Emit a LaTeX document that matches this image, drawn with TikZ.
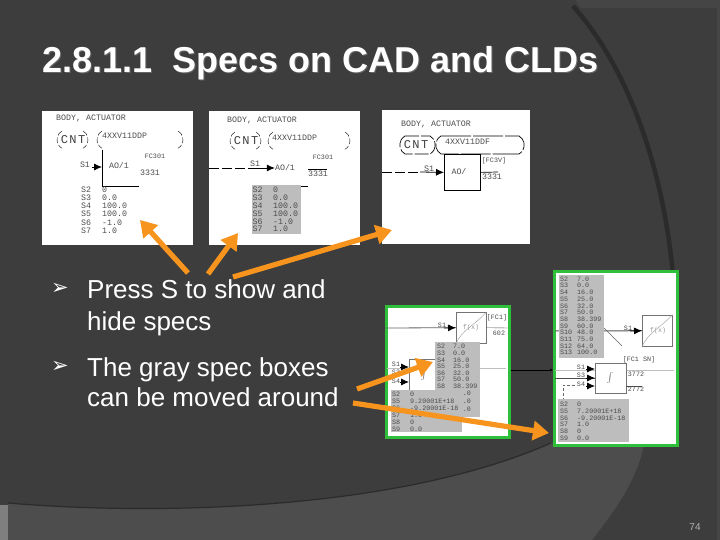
\documentclass[tikz,border=0pt]{standalone}
\usepackage{fontspec}
\setmainfont{Liberation Sans}
\setmonofont{Liberation Mono}
\newfontfamily\bulletfont{DejaVu Sans}
\usetikzlibrary{arrows.meta}
\definecolor{slidebg}{HTML}{3D3D3D}
\definecolor{slidelight}{HTML}{4D4D4D}
\definecolor{slidedark}{HTML}{2B2B2B}
\definecolor{specgray}{HTML}{BDBDBD}
\definecolor{panelgreen}{HTML}{2FBF3A}
\definecolor{callout}{HTML}{F7941D}
\tikzset{
	panel/.style={fill=white,anchor=north west,inner sep=0pt},
	greenpanel/.style={panel,draw=panelgreen,line width=2.5pt},
	specbox/.style={fill=specgray,anchor=north west,inner sep=0pt},
	tiny/.style={font=\ttfamily\fontsize{8.3}{8.3}\selectfont,text=black!70,inner sep=0pt},
	small/.style={font=\ttfamily\fontsize{6.7}{6.7}\selectfont,text=black!70,inner sep=0pt},
	cntlabel/.style={font=\ttfamily\addfontfeature{LetterSpace=12}\fontsize{12}{12}\selectfont,text=black!75,inner sep=0pt},
	paren/.style={black,dash pattern=on 6pt off 2pt},
	blockbox/.style={draw=black!55,fill=white,anchor=north west,inner sep=0pt},
	sig/.style={-{Latex[length=8pt,width=7pt]},black,line width=.8pt},
	callarrow/.style={-{Triangle[length=16pt,width=19pt]},callout,line width=5.2pt},
	bulletmark/.style={font=\bulletfont\fontsize{21}{21}\selectfont,text=white,anchor=west,inner sep=0pt},
	bodytext/.style={text=white,anchor=west,align=left,inner sep=0pt}
}
\begin{document}
\begin{tikzpicture}[x=1pt,y=-1pt]
	\useasboundingbox (0,0) rectangle (720,540);
	% slide background
	\fill[slidebg] (0,0) rectangle (720,540);
	\fill[slidelight!50!slidebg] (575,0) -- (720,0) -- (720,540) -- (717,540) -- (717,8) -- (581,8) -- cycle;
	\fill[slidelight] (8,503) .. controls (160,516) and (400,510) .. (551,443)
		-- (645,440) .. controls (638,480) and (615,510) .. (592,540) -- (8,540) -- cycle;
	\fill[slidelight!60!white!70!slidelight] (0,505) rectangle (8,540);
	\draw[slidedark,line width=4.5pt] (573,6) .. controls (630,70) and (662,170) .. (672,265)
		.. controls (680,340) and (668,400) .. (648,444);
	\draw[slidedark,line width=1.2pt] (8,503) .. controls (160,516) and (400,510) .. (551,443);

	% title
	\node[font=\bfseries\fontsize{36}{36}\selectfont,text=black!60,anchor=west,inner sep=0pt] (titleshadow) at (43,64) {2.8.1.1\ \ Specs on CAD and CLDs};
	\node[font=\bfseries\fontsize{36}{36}\selectfont,text=white,anchor=west,inner sep=0pt] (title) at (42,63) {2.8.1.1\ \ Specs on CAD and CLDs};

	% panel one
	\node[panel,minimum width=151pt,minimum height=134pt] (pa) at (42,111) {};
	\node[tiny,anchor=west] (pa title) at (56,118) {BODY, ACTUATOR};
	\node[cntlabel] (pa cnt) at (73,140) {CNT};
	\node[tiny,anchor=west] (pa tag) at (102,136) {4XXV11DDP};
	\draw[paren] (62,131) arc[start angle=120,end angle=240,radius=10pt];
	\draw[paren] (83,131) arc[start angle=60,end angle=-60,radius=10pt];
	\draw[paren] (102,131) arc[start angle=120,end angle=240,radius=10pt];
	\draw[paren] (178,131) arc[start angle=60,end angle=-60,radius=10pt];
	\coordinate (pa top) at (102,150);
	\coordinate (pa corner) at (102,186);
	\coordinate (pa end) at (139,186);
	\draw[black,line width=.7pt] (pa top) -- (pa corner) -- (pa end);
	\node[tiny] (pa s) at (85,165) {S1};
	\node[tiny] (pa ao) at (119,166) {AO/1};
	\node[small] (pa fc) at (155,156) {FC301};
	\node[tiny] (pa num) at (150,173) {3331};
	\coordinate (pa in) at (92,167);
	\draw[sig] (pa in) -- (pa corner |- pa in);
	\foreach \y/\n/\v in {190/S2/0,197.5/S3/0.0,206/S4/100.0,214/S5/100.0,223/S6/-1.0,231/S7/1.0}
		{\node[tiny,anchor=west] at (81,\y) {\n};
		\node[tiny,anchor=west] at (102,\y) {\v};}

	% panel two
	\node[panel,minimum width=151pt,minimum height=134pt] (pb) at (209,111) {};
	\node[tiny,anchor=west] (pb title) at (227,120) {BODY, ACTUATOR};
	\node[cntlabel] (pb cnt) at (246,141) {CNT};
	\node[tiny,anchor=west] (pb tag) at (272,138) {4XXV11DDP};
	\draw[paren] (235,132) arc[start angle=120,end angle=240,radius=10pt];
	\draw[paren] (256,132) arc[start angle=60,end angle=-60,radius=10pt];
	\draw[paren] (273,132) arc[start angle=120,end angle=240,radius=10pt];
	\draw[paren] (345,132) arc[start angle=60,end angle=-60,radius=10pt];
	\node[tiny] (pb s) at (255,164) {S1};
	\node[tiny] (pb ao) at (285,168) {AO/1};
	\node[small] (pb fc) at (323,157) {FC301};
	\node[tiny] (pb num) at (318,174) {3331};
	\coordinate (pb in) at (209,168);
	\coordinate (pb mid) at (248,168);
	\draw[black,dash pattern=on 10pt off 3pt,line width=.7pt] (pb in) -- (pb mid);
	\draw[sig] (pb mid) -- (pb ao.west);
	\coordinate (pb o) at (308,169);
	\coordinate (pb p) at (327,169);
	\draw[black,line width=.7pt] (pb o) -- (pb p);
	\coordinate (pb q) at (301,186);
	\coordinate (pb r) at (308,186);
	\draw[black,line width=.7pt] (pb q) -- (pb r);
	\node[specbox,minimum width=49pt,minimum height=49pt] (pb spec) at (252,185) {};
	\foreach \y/\n/\v in {190/S2/0,197.5/S3/0.0,206/S4/100.0,214/S5/100.0,222/S6/-1.0,229/S7/1.0}
		{\node[tiny,anchor=west] at (252.5,\y) {\n};
		\node[tiny,anchor=west] at (273,\y) {\v};}

	% panel three
	\node[panel,minimum width=148pt,minimum height=134pt] (pc) at (382,110) {};
	\node[tiny,anchor=west] (pc title) at (401,124) {BODY, ACTUATOR};
	\node[cntlabel] (pc cnt) at (416,145) {CNT};
	\node[tiny,anchor=west] (pc tag) at (445,142) {4XXV11DDF};
	\draw[black,line width=.7pt,dash pattern=on 14pt off 2pt] (405,136) -- (430,136) arc[start angle=60,end angle=-60,radius=10.4pt] -- (405,154) arc[start angle=240,end angle=120,radius=10.4pt];
	\draw[black,line width=.7pt,dash pattern=on 30pt off 2pt] (441,136) -- (519,136) arc[start angle=60,end angle=-60,radius=10.4pt] -- (441,154) arc[start angle=240,end angle=120,radius=10.4pt];
	\node[blockbox,draw=black,line width=.8pt,minimum width=36pt,minimum height=36pt] (pc block) at (444,154) {};
	\node[tiny] (pc ao) at (459,172) {AO/};
	\node[tiny] (pc s) at (429,169) {S1};
	\node[small] (pc fc) at (494,161) {[FC3V]};
	\node[tiny] (pc num) at (492,177) {3331};
	\coordinate (pc in) at (382,172);
	\coordinate (pc mid) at (420,172);
	\draw[black,dash pattern=on 10pt off 3pt,line width=.7pt] (pc in) -- (pc mid);
	\draw[sig] (pc mid) -- (pc block.west);
	\coordinate (pc out) at (498,172);
	\draw[black,line width=.7pt] (pc block.east) -- (pc out);

	% lower left panel
	\node[greenpanel,minimum width=123pt,minimum height=131pt] (pd) at (385,305) {};
	\coordinate (pd in) at (385,328);
	\node[blockbox,minimum width=30pt,minimum height=31pt] (pd fx) at (456,312) {};
	\draw[black!60,line width=.8pt] (pd in) -- (pd fx.west);
	\draw[sig] (444,328) -- (pd fx.west);
	\node[small] (pd s) at (442,325) {S1};
	\node[small,text=black!40] (pd fx label) at (471,328) {f(x)};
	\draw[black!40] (pd fx.south west) .. controls (462,330) and (475,325) .. (pd fx.north east);
	\coordinate (pd out) at (508,328);
	\draw[black!70] (pd fx.east) -- (pd out);
	\node[small] (pd fc) at (497,318) {[FC1]};
	\node[small] (pd num) at (499,333) {602};
	\coordinate (pd a) at (387,368);
	\coordinate (pd b) at (506,368);
	\draw[black!25] (pd a) -- (pd b);
	\node[blockbox,minimum width=26pt,minimum height=31pt] (pd int) at (409,359) {};
	\node[small] (pd s1) at (396,364) {S1};
	\node[small] (pd s2) at (396,372) {S3};
	\node[small] (pd s3) at (396,381) {S4};
	\draw[sig] (400,367) -- (409,367);
	\draw[sig] (400,382) -- (409,382);
	\node[text=black!60,inner sep=0pt] (pd sign) at (424,375) {$\int$};
	\node[specbox,minimum width=45pt,minimum height=75pt] (pd spec) at (435,342) {};
	\foreach \y/\n/\v in {346.7/S2/7.0,353.3/S3/0.0,360/S4/16.0,366.5/S5/25.0,373/S6/32.0,379.5/S7/50.0,386.5/S8/38.399}
		{\node[small,anchor=west] at (437,\y) {\n};
		\node[small,anchor=west] at (453,\y) {\v};}
	\foreach \y/\v in {393/.0,401/.0,409/.0}
		\node[small,anchor=east] at (471,\y) {\v};
	\node[specbox,minimum width=71pt,minimum height=42pt] (pd low) at (391,390) {};
	\foreach \y/\n/\v in {394/S2/0,401/S5/9.20001E+18,408/S6/-9.20001E-18,415/S7/1.0,422/S8/0,429/S9/0.0}
		{\node[small,anchor=west] at (392,\y) {\n};
		\node[small,anchor=west] at (410,\y) {\v};}

	% lower right panel
	\node[greenpanel,minimum width=123pt,minimum height=174pt] (pe) at (553,270) {};
	\coordinate (pe c) at (555,370);
	\coordinate (pe d) at (674,370);
	\draw[black,line width=.5pt,-{Latex[length=3pt,width=3pt]}] (pd.east |- pe c) -- (pe.west |- pe c);
	\coordinate (pe in) at (555,331);
	\node[blockbox,minimum width=30pt,minimum height=31pt] (pe fx) at (642,315) {};
	\draw[black!65,line width=1pt] (pe in) -- (pe fx.west);
	\draw[sig] (630,331) -- (pe fx.west);
	\node[small] (pe s) at (628,328) {S1};
	\node[small,text=black!40] (pe fx label) at (658,331) {f(x)};
	\draw[black!40] (pe fx.south west) .. controls (648,333) and (660,328) .. (pe fx.north east);
	\coordinate (pe a) at (604,328);
	\coordinate (pe b) at (622,346);
	\draw[black!60] (pe a) -- (pe b);
	\draw[black!25] (pe c) -- (pe d);
	\node[blockbox,minimum width=31pt,minimum height=30pt] (pe int) at (595,363) {};
	\node[text=black!60,inner sep=0pt] (pe sign) at (610,378) {$\int$};
	\coordinate (pe l) at (555,378);
	\draw[black!70] (pe l) -- (pe int.west |- pe l);
	\foreach \y/\m/\n in {369/S1/367,378/S3/375,386/S4/384}
		{\draw[sig] (586,\y) -- (595,\y);
		\node[small] at (581,\n) {\m};}
	\node[small] (pe fc) at (639,360) {[FC1 SN]};
	\node[small] (pe num) at (636,374) {3772};
	\node[small] (pe numb) at (636,389) {2772};
	\coordinate (pe o) at (642,386);
	\draw[black!70] (pe int.east |- pe o) -- (pe o);
	\coordinate (pe e) at (575,385);
	\coordinate (pe f) at (563,385);
	\coordinate (pe g) at (563,399);
	\draw[black!60,densely dashed] (pe e) -- (pe f) -- (pe g);
	\node[specbox,minimum width=45pt,minimum height=83pt] (pe spec) at (559,275) {};
	\foreach \y/\n/\v in {279/S2/7.0,285.7/S3/0.0,292.4/S4/16.0,299.1/S5/25.0,305.8/S6/32.0,312.5/S7/50.0,319.2/S8/38.399,325.9/S9/60.0,332.6/S10/48.0,339.3/S11/75.0,346/S12/64.0,352.7/S13/100.0}
		{\node[small,anchor=west] at (560,\y) {\n};
		\node[small,anchor=west] at (577,\y) {\v};}
	\node[specbox,minimum width=71pt,minimum height=43pt] (pe low) at (558,399) {};
	\foreach \y/\n/\v in {404/S2/0,411/S5/7.20001E+18,418/S6/-9.20001E-18,424.5/S7/1.0,431/S8/0,438/S9/0.0}
		{\node[small,anchor=west] at (560,\y) {\n};
		\node[small,anchor=west] at (577,\y) {\v};}

	% bullets
	\node[bulletmark] (bulleta) at (51,289) {➢};
	\node[bodytext,font=\fontsize{26}{32}\selectfont] (texta) at (87,308) {Press S to show and\\hide specs};
	\node[bulletmark] (bulletb) at (51,367) {➢};
	\node[bodytext,font=\fontsize{26}{30}\selectfont] (textb) at (87,382) {The gray spec boxes\\can be moved around};

	% callouts
	\coordinate (tail a) at (188,273);
	\coordinate (tail b) at (208,274);
	\coordinate (tail c) at (233,277);
	\coordinate (tail d) at (357,389);
	\coordinate (tail e) at (353,403);
	\coordinate (tip a) at (140,220);
	\coordinate (tip b) at (238,233);
	\coordinate (tip c) at (392,230);
	\coordinate (tip d) at (433,362);
	\coordinate (tip e) at (549,433);
	\draw[callarrow] (tail a) -- (tip a);
	\draw[callarrow] (tail b) -- (tip b);
	\draw[callarrow] (tail c) -- (tip c);
	\draw[callarrow] (tail d) -- (tip d);
	\draw[callarrow] (tail e) -- (tip e);

	\node[font=\fontsize{10}{10}\selectfont,text=black!30,inner sep=0pt] (pageno) at (695,527) {74};
\end{tikzpicture}
\end{document}
